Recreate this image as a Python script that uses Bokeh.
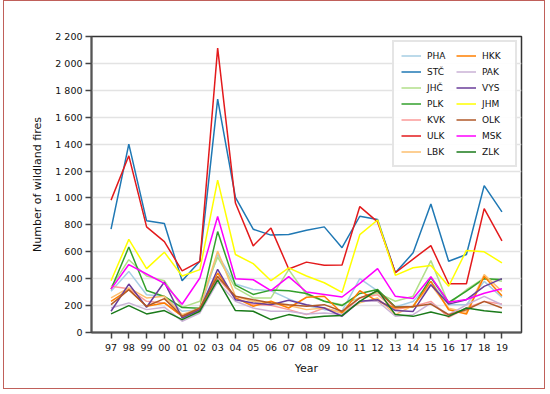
from bokeh.plotting import figure
from bokeh.models import Range1d, FixedTicker, Legend, LegendItem
from bokeh.embed import file_html
from bokeh.resources import INLINE

years = ["97", "98", "99", "00", "01", "02", "03", "04", "05", "06", "07", "08",
         "09", "10", "11", "12", "13", "14", "15", "16", "17", "18", "19"]

PHA = [306, 454, 281, 269, 158, 170, 580, 360, 320, 310, 250, 200, 170, 160, 400, 310, 190, 230, 380, 206, 206, 380, 261]
STC = [768, 1400, 830, 810, 384, 530, 1735, 1005, 768, 724, 728, 760, 785, 630, 864, 840, 444, 592, 955, 530, 580, 1092, 896]
JHC = [336, 541, 420, 385, 187, 232, 560, 331, 257, 257, 467, 281, 232, 207, 257, 294, 232, 270, 534, 211, 318, 405, 380]
PLK = [322, 635, 312, 268, 185, 180, 750, 352, 283, 315, 311, 290, 232, 200, 290, 320, 190, 190, 408, 223, 307, 400, 393]
KVK = [343, 326, 232, 220, 121, 158, 405, 257, 207, 202, 170, 133, 182, 145, 257, 281, 170, 194, 231, 112, 182, 231, 211]
ULK = [984, 1313, 785, 676, 458, 528, 2114, 962, 644, 776, 472, 523, 499, 501, 936, 822, 444, 546, 646, 362, 362, 921, 681]
LBK = [257, 331, 257, 269, 133, 182, 605, 269, 230, 220, 200, 170, 182, 145, 220, 257, 133, 200, 355, 180, 150, 430, 306]
HKK = [232, 318, 195, 220, 121, 170, 442, 257, 195, 232, 182, 262, 269, 145, 311, 232, 182, 194, 380, 169, 137, 417, 273]
PAK = [182, 220, 170, 188, 84, 145, 375, 232, 182, 158, 158, 138, 145, 133, 232, 232, 121, 132, 219, 132, 206, 268, 206]
VYS = [158, 360, 188, 375, 108, 170, 470, 244, 220, 207, 239, 207, 182, 121, 232, 244, 163, 157, 355, 211, 244, 343, 400]
JHM = [385, 692, 475, 597, 420, 467, 1132, 580, 512, 385, 480, 420, 370, 298, 727, 836, 425, 481, 498, 344, 610, 600, 517]
OLK = [207, 318, 195, 252, 121, 182, 417, 269, 244, 220, 207, 195, 207, 158, 257, 306, 188, 194, 211, 132, 169, 231, 182]
MSK = [322, 505, 435, 365, 210, 405, 862, 400, 392, 311, 415, 301, 283, 264, 365, 475, 269, 252, 415, 225, 245, 292, 325]
ZLK = [138, 200, 138, 163, 96, 158, 392, 163, 158, 96, 133, 108, 121, 126, 232, 315, 133, 120, 152, 120, 182, 162, 149]

y_ticks = [0, 200, 400, 600, 800, 1000, 1200, 1400, 1600, 1800, 2000, 2200]
y_tick_labels = ["0", "200", "400", "600", "800", "1 000", "1 200", "1 400", "1 600", "1 800", "2 000", "2 200"]

series = [
    ("PHA", PHA, "#a6cee3"), ("STČ", STC, "#1f78b4"), ("JHČ", JHC, "#b2df8a"),
    ("PLK", PLK, "#33a02c"), ("KVK", KVK, "#fb9a99"), ("ULK", ULK, "#e31a1c"),
    ("LBK", LBK, "#fdbf6f"), ("HKK", HKK, "#ff7f00"), ("PAK", PAK, "#cab2d6"),
    ("VYS", VYS, "#6a3d9a"), ("JHM", JHM, "#ffff00"), ("OLK", OLK, "#b15928"),
    ("MSK", MSK, "#ff00ff"), ("ZLK", ZLK, "#1a7a1a"),
]

x = list(range(len(years)))
n = len(years)

p = figure(width=542, height=389, output_backend="svg", toolbar_location=None,
           x_range=Range1d(-0.05 * (n - 1), (n - 1) * 1.05),
           y_range=Range1d(0, 2200),
           min_border_left=87, min_border_right=25, min_border_top=35, min_border_bottom=58)
p.styles = {"border": "1px solid #c0605a", "margin-left": "3px"}

items = []
for name, vals, col in series:
    r = p.line(x, vals, line_color=col, line_width=1.5)
    items.append(LegendItem(label=name, renderers=[r]))

font = "DejaVu Sans"
p.xaxis.ticker = FixedTicker(ticks=x)
p.xaxis.major_label_overrides = {i: years[i] for i in x}
p.yaxis.ticker = FixedTicker(ticks=y_ticks)
p.yaxis.major_label_overrides = {t: l for t, l in zip(y_ticks, y_tick_labels)}
p.xaxis.axis_label = "Year"
p.yaxis.axis_label = "Number of wildland fires"
for ax in (p.xaxis, p.yaxis):
    ax.axis_label_text_font = font
    ax.axis_label_text_font_size = "11px"
    ax.axis_label_text_font_style = "normal"
    ax.axis_label_text_color = "#111111"
    ax.major_label_text_font = font
    ax.major_label_text_font_size = "9.5px"
    ax.major_label_text_color = "#111111"
    ax.minor_tick_line_color = None
    ax.major_tick_in = 0
    ax.major_tick_out = 6
    ax.major_tick_line_color = "#444444"
    ax.major_tick_line_width = 1.5
    ax.axis_line_color = "#555555"
    ax.axis_line_width = 2
p.xaxis.major_label_standoff = 5
p.yaxis.major_label_standoff = 3
p.xaxis.axis_label_standoff = 8
p.yaxis.axis_label_standoff = 8

p.xgrid.grid_line_color = None
p.ygrid.grid_line_color = "#e3e3e3"
p.ygrid.grid_line_width = 1.5
p.outline_line_color = "#333333"
p.outline_line_width = 1.5

legend = Legend(items=items, location="top_right", ncols=2,
                label_text_font=font, label_text_font_size="9px", label_text_color="#111111",
                glyph_width=20, glyph_height=13, label_height=13, label_width=26,
                label_standoff=6, spacing=3, padding=7, margin=4,
                border_line_color="#cccccc", border_line_width=2,
                background_fill_color="white", background_fill_alpha=0.9)
p.add_layout(legend)

open("out.html", "w").write(file_html(p, INLINE))
